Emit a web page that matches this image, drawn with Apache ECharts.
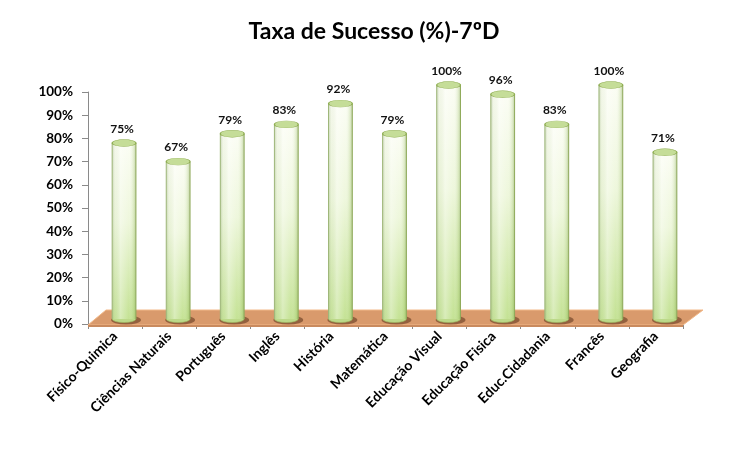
<!DOCTYPE html>
<html>
<head>
<meta charset="utf-8">
<script src="https://cdn.jsdelivr.net/npm/echarts@6/dist/echarts.min.js"></script>
<style>
  html, body { margin: 0; padding: 0; background: #fff; }
  #chart { width: 748px; height: 450px; }
</style>
</head>
<body>
<div id="chart"></div>
<script>
const subjects = ['Físico-Quimica', 'Ciências Naturais', 'Português', 'Inglês', 'História', 'Matemática',
  'Educação Visual', 'Educação Fisica', 'Educ.Cidadania', 'Francês', 'Geografia'];
const successRate = [75, 67, 79, 83, 92, 79, 100, 96, 83, 100, 71];
const yTicks = [0, 10, 20, 30, 40, 50, 60, 70, 80, 90, 100];

const FONT = 'Lato, "Open Sans", sans-serif';
const DX = 9, DY = -7; // 3d depth shift

const chart = echarts.init(document.getElementById('chart'));

function renderFloor(params, api) {
  const x0 = params.coordSys.x;
  const x1 = x0 + params.coordSys.width;
  const y0 = api.coord([0, 0])[1] + 1;
  const d = 2;
  return {
    type: 'group',
    children: [
      {
        type: 'polygon',
        shape: { points: [[x0, y0], [x1, y0], [x1 + 20, y0 - 15], [x0 + 18, y0 - 15]] },
        style: { fill: '#d99a6c', stroke: '#f2b888', lineWidth: 1 }
      },
      {
        type: 'polygon',
        shape: { points: [[x0, y0], [x1, y0], [x1, y0 + d], [x0, y0 + d]] },
        style: { fill: '#c98a5e' }
      }
    ]
  };
}

function renderCylinder(params, api) {
  const top = api.coord([api.value(0), api.value(1)]);
  const base = api.coord([api.value(0), 0]);
  const w = api.size([1, 0])[0] * 0.44;
  const cx = top[0] + DX;
  const yTop = top[1] + DY;
  const yBot = base[1] + DY + 2;
  const ry = 3.5;
  return {
    type: 'group',
    children: [
      {
        type: 'circle',
        shape: { cx: 0, cy: 0, r: w / 2 + 3 },
        x: cx + 2, y: yBot + 1, scaleY: 0.3,
        style: { fill: 'rgba(90,50,25,0.55)' }
      },
      {
        type: 'circle',
        shape: { cx: 0, cy: 0, r: w / 2 },
        x: cx, y: yBot, scaleY: ry / (w / 2),
        style: { fill: '#bcd98a', stroke: '#9dbb62', lineWidth: 1 }
      },
      {
        type: 'rect',
        shape: { x: cx - w / 2, y: yTop, width: w, height: yBot - yTop },
        style: {
          fill: new echarts.graphic.LinearGradient(0, 0, 0, 1, [
            { offset: 0, color: '#fbfdf4' },
            { offset: 0.45, color: '#eef7dc' },
            { offset: 1, color: '#c4e294' }
          ])
        }
      },
      {
        type: 'rect',
        shape: { x: cx - w / 2, y: yTop, width: w, height: yBot - yTop },
        style: {
          fill: new echarts.graphic.LinearGradient(0, 0, 1, 0, [
            { offset: 0, color: 'rgba(140,165,110,0.45)' },
            { offset: 0.12, color: 'rgba(200,215,180,0.15)' },
            { offset: 0.35, color: 'rgba(255,255,255,0.35)' },
            { offset: 0.7, color: 'rgba(255,255,255,0)' },
            { offset: 0.92, color: 'rgba(140,180,80,0.25)' },
            { offset: 1, color: 'rgba(110,140,70,0.45)' }
          ])
        }
      },
      {
        type: 'line',
        shape: { x1: cx - w / 2, y1: yTop, x2: cx - w / 2, y2: yBot },
        style: { stroke: '#9fb77a', lineWidth: 1 }
      },
      {
        type: 'line',
        shape: { x1: cx + w / 2, y1: yTop, x2: cx + w / 2, y2: yBot },
        style: { stroke: '#8faa5a', lineWidth: 1 }
      },
      {
        type: 'circle',
        shape: { cx: 0, cy: 0, r: w / 2 },
        x: cx, y: yTop, scaleY: ry / (w / 2),
        style: { fill: '#c5dd98', stroke: '#8fad52', lineWidth: 1.2 }
      },
      {
        type: 'text',
        x: cx - 2, y: yTop - 8,
        style: {
          text: api.value(1) + '%',
          fill: '#111', font: 'bold 12px ' + FONT,
          align: 'center', verticalAlign: 'bottom'
        }
      }
    ]
  };
}

chart.setOption({
  animation: false,
  backgroundColor: '#fff',
  title: {
    text: 'Taxa de Sucesso (%)-7ºD',
    left: 'center', top: 15,
    textStyle: { fontFamily: FONT, fontWeight: 'bold', fontSize: 23, color: '#000' }
  },
  grid: { left: 88, right: 65, top: 92, bottom: 126 },
  xAxis: {
    type: 'category',
    data: subjects,
    axisLine: { lineStyle: { color: '#8a8a8a', width: 1 } },
    axisTick: { show: true, length: 5, lineStyle: { color: '#8a8a8a' } },
    axisLabel: {
      rotate: 45, interval: 0, margin: 10,
      fontFamily: FONT, fontWeight: 'bold', fontSize: 14, color: '#000'
    }
  },
  yAxis: {
    type: 'value', min: 0, max: 100, interval: 10,
    axisLine: { show: true, lineStyle: { color: '#8a8a8a' } },
    axisTick: { show: true, length: 6, lineStyle: { color: '#8a8a8a' } },
    splitLine: { show: false },
    axisLabel: {
      margin: 15,
      fontFamily: FONT, fontWeight: 'bold', fontSize: 13.5, color: '#000',
      formatter: v => yTicks.includes(v) ? v + '%' : ''
    }
  },
  series: [
    {
      type: 'custom',
      renderItem: renderFloor,
      data: [[0, 0]],
      z: 1,
      silent: true
    },
    {
      type: 'custom',
      renderItem: renderCylinder,
      data: successRate.map((v, i) => [i, v]),
      encode: { x: 0, y: 1 },
      z: 2
    }
  ]
});
</script>
</body>
</html>
